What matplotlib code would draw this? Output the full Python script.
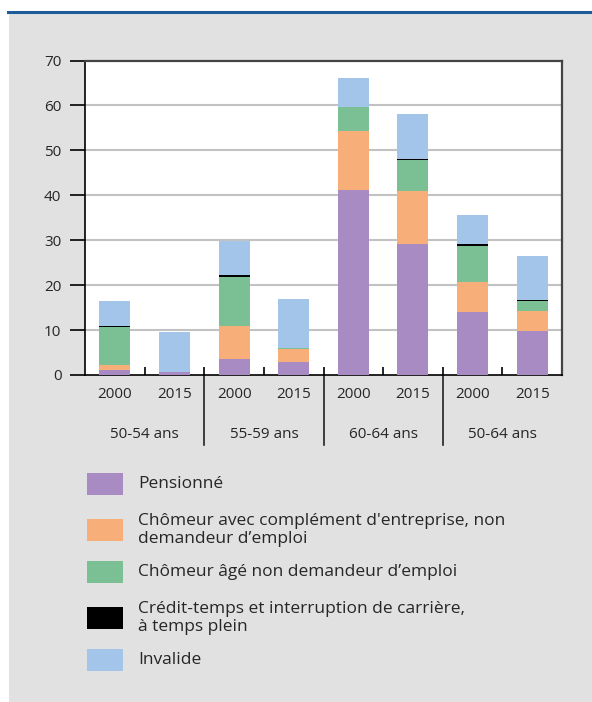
import numpy as np
import matplotlib
matplotlib.use("Agg")
import matplotlib.pyplot as plt
from matplotlib.patches import Rectangle
from matplotlib.lines import Line2D
import matplotlib.transforms as mtransforms

plt.rcParams['font.family'] = ['Open Sans', 'DejaVu Sans']

years = ["2000", "2015", "2000", "2015", "2000", "2015", "2000", "2015"]
groups = ["50-54 ans", "55-59 ans", "60-64 ans", "50-64 ans"]

pensionne = [1.1, 0.7, 3.6, 2.9, 41.1, 29.2, 14.0, 9.8]
chomeur_complement = [1.1, 0.0, 7.3, 2.9, 13.1, 11.7, 6.7, 4.4]
chomeur_age = [8.4, 0.0, 10.9, 0.3, 5.4, 6.9, 8.0, 2.3]
credit_temps = [0.2, 0.0, 0.5, 0.0, 0.0, 0.2, 0.5, 0.2]
invalide = [5.6, 8.9, 7.5, 10.8, 6.4, 10.0, 6.4, 9.7]

series = [
    ("Pensionné", pensionne, "#a78bc2"),
    ("Chômeur avec complément d'entreprise, non\ndemandeur d’emploi", chomeur_complement, "#f7ae79"),
    ("Chômeur âgé non demandeur d’emploi", chomeur_age, "#7bbf94"),
    ("Crédit-temps et interruption de carrière,\nà temps plein", credit_temps, "#000000"),
    ("Invalide", invalide, "#a3c5ea"),
]

W, H = 592, 702
fig = plt.figure(figsize=(W / 100, H / 100), dpi=100)
fig.patch.set_facecolor("white")

# grey panel with blue rule on top
fig.add_artist(Rectangle((9 / W, 0), 1, (H - 13) / H, transform=fig.transFigure,
                         facecolor="#e1e1e1", edgecolor="none", zorder=0))
fig.add_artist(Line2D([8 / W, 1], [(H - 12) / H] * 2, transform=fig.transFigure,
                      color="#1d5c99", lw=2.2, zorder=1))

ax = fig.add_axes([85 / W, (H - 375) / H, 477 / W, 314.5 / H])
ax.set_facecolor("white")

x = np.arange(len(years))
bottom = np.zeros(len(years))
for label, vals, color in series:
    vals = np.array(vals)
    ax.bar(x, vals, width=0.52, bottom=bottom, color=color, zorder=3)
    bottom += vals

ax.set_xlim(-0.5, len(years) - 0.5)
ax.set_ylim(0, 70)
ax.set_yticks(range(0, 71, 10))
for yv in range(10, 70, 10):
    ax.axhline(yv, color="#c2c2c2", lw=1.5, zorder=1)

ax.tick_params(axis="y", direction="out", length=11, width=1.2, pad=6,
               labelsize=11, labelcolor="#262626")
ax.set_xticks([])
ax.set_xticks(np.arange(0.5, len(years) - 1, 1), minor=True)
ax.tick_params(axis="x", which="minor", direction="in", length=6, width=1.2)

for side in ["left", "bottom"]:
    ax.spines[side].set_color("black")
    ax.spines[side].set_linewidth(1.2)
for side in ["top", "right"]:
    ax.spines[side].set_color("#444444")
    ax.spines[side].set_linewidth(1.6)

trans = mtransforms.blended_transform_factory(ax.transData, ax.transAxes)
for i, yr in enumerate(years):
    ax.text(i, -19 / 314.5, yr, transform=trans, ha="center", va="center",
            fontsize=11, color="#262626")
for g, name in enumerate(groups):
    ax.text(2 * g + 0.5, -60 / 314.5, name, transform=trans, ha="center", va="center",
            fontsize=11, color="#262626")
for sep in [1.5, 3.5, 5.5]:
    ax.plot([sep, sep], [0, -70 / 314.5], transform=trans, color="#222222",
            lw=1.2, clip_on=False)

# legend
legend_y = [484, 530, 572, 618, 660]
for (label, vals, color), yc in zip(series, legend_y):
    fig.add_artist(Rectangle((87 / W, (H - yc - 11) / H), 36 / W, 22 / H,
                             transform=fig.transFigure, facecolor=color,
                             edgecolor="none"))
    fig.text(138 / W, (H - yc) / H, label, ha="left", va="center",
             fontsize=12.5, color="#262626", linespacing=1.22)

fig.savefig("out.png", dpi=100)
